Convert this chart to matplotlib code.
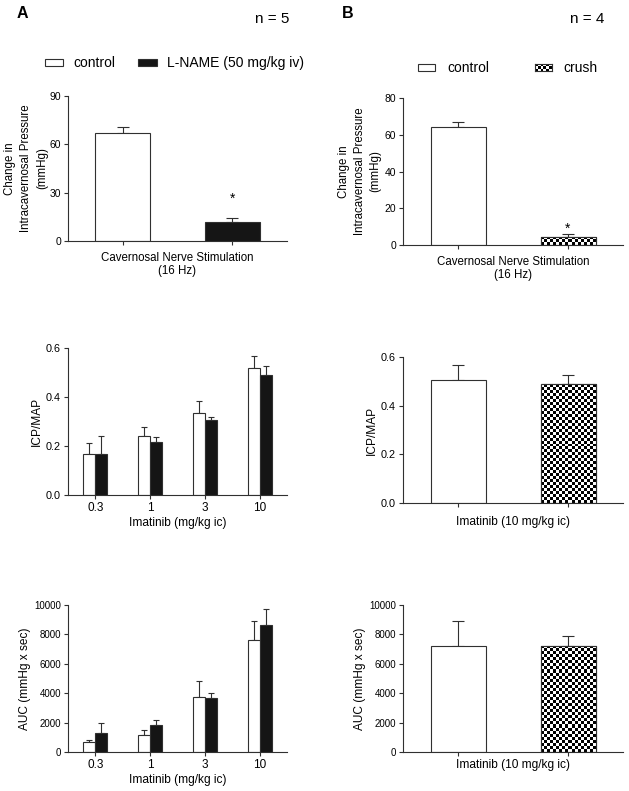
import numpy as np
import matplotlib
matplotlib.use('agg')
import matplotlib.pyplot as plt
from matplotlib.patches import Rectangle

plt.rcParams['font.family'] = ['Liberation Sans', 'DejaVu Sans']

W, H = 629, 791
EDGE = '#303030'

# panel A, top: change in ICP at 16 Hz
nerve_groups = ['control', 'L-NAME (50 mg/kg iv)']
nerve_a_mean = [67.2, 12.0]
nerve_a_sem = [3.7, 2.5]
# panel B, top
crush_groups = ['control', 'crush']
nerve_b_mean = [64.4, 4.5]
nerve_b_sem = [2.7, 1.3]
star_a_y = 26
star_b_y = 8.8

# imatinib doses, panel A
doses = ['0.3', '1', '3', '10']
icp_ctrl = [0.166, 0.241, 0.334, 0.518]
icp_ctrl_sem = [0.048, 0.038, 0.048, 0.051]
icp_lname = [0.166, 0.218, 0.307, 0.491]
icp_lname_sem = [0.075, 0.018, 0.013, 0.037]
auc_ctrl = [650, 1175, 3735, 7625]
auc_ctrl_sem = [185, 290, 1125, 1310]
auc_lname = [1290, 1853, 3707, 8642]
auc_lname_sem = [680, 340, 340, 1065]

# panel B, 10 mg/kg imatinib
icp_b = [0.504, 0.488]
icp_b_sem = [0.062, 0.040]
auc_b = [7237, 7216]
auc_b_sem = [1677, 700]


def px_axes(fig, l, t, r, b):
    return fig.add_axes([l / W, 1 - b / H, (r - l) / W, (b - t) / H])


def style(ax, ysize=7.5):
    for s in ['top', 'right']:
        ax.spines[s].set_visible(False)
    for s in ['left', 'bottom']:
        ax.spines[s].set_color(EDGE)
        ax.spines[s].set_linewidth(0.8)
    ax.tick_params(length=3, width=0.8, color=EDGE, pad=2)
    ax.tick_params(axis='y', labelsize=ysize)
    ax.tick_params(axis='x', labelsize=8.5)


def checker(ax, bar, cell=3):
    # fill a bar with a black/white checkerboard clipped to the bar
    bb = bar.get_window_extent()
    nx = max(1, int(round(bb.width / cell)))
    ny = max(1, int(round(bb.height / cell)))
    grid = (np.add.outer(np.arange(ny), np.arange(nx)) % 2).astype(float)
    x0 = bar.get_x()
    im = ax.imshow(grid, cmap='gray', interpolation='nearest', aspect='auto',
                   extent=(x0, x0 + bar.get_width(), 0, bar.get_height()),
                   origin='lower', zorder=2)
    im.set_clip_path(bar)


def upper_err(ax, x, y, e, cap):
    ax.errorbar(x, y, yerr=[np.zeros(len(e)), e], fmt='none', ecolor=EDGE,
                elinewidth=0.8, capsize=cap, capthick=0.8, zorder=1)


def pair_panel(ax, mean, sem, second, ylim, yticks, fmt=None, ysize=7.5):
    x = np.arange(2)
    upper_err(ax, x, mean, sem, 4.3)
    bars = ax.bar(x, mean, width=0.5, facecolor='white', edgecolor=EDGE,
                  linewidth=0.8, zorder=1.5)
    ax.set_xlim(-0.5, 1.5)
    ax.set_ylim(*ylim)
    ax.set_yticks(yticks)
    if fmt:
        ax.set_yticklabels([fmt % v for v in yticks])
    ax.set_xticks(x)
    ax.set_xticklabels(['', ''])
    style(ax, ysize)
    if second == 'black':
        bars[1].set_facecolor('#151515')
    else:
        bars[1].set_facecolor('none')
        checker(ax, bars[1])
        ax.bar(x[1:], mean[1:], width=0.5, facecolor='none', edgecolor=EDGE,
               linewidth=0.8, zorder=3)
    return bars


def dose_panel(ax, c, cs, l, ls, ylim, yticks, fmt=None, ysize=7.5):
    x = np.arange(len(doses))
    w = 0.22
    upper_err(ax, x - w / 2, c, cs, 2.2)
    upper_err(ax, x + w / 2, l, ls, 2.2)
    ax.bar(x - w / 2, c, width=w, facecolor='white', edgecolor=EDGE,
           linewidth=0.8, zorder=1.5)
    ax.bar(x + w / 2, l, width=w, facecolor='#151515', edgecolor=EDGE,
           linewidth=0.8, zorder=1.5)
    ax.set_xlim(-0.5, 3.5)
    ax.set_ylim(*ylim)
    ax.set_yticks(yticks)
    if fmt:
        ax.set_yticklabels([fmt % v for v in yticks])
    ax.set_xticks(x)
    ax.set_xticklabels(doses)
    style(ax, ysize)
    ax.set_xlabel('Imatinib (mg/kg ic)', fontsize=8.6, labelpad=2)


fig = plt.figure(figsize=(W / 100, H / 100), dpi=100)

# headers
fig.text(17 / W, 1 - 14 / H, 'A', fontsize=11.5, fontweight='bold', va='center')
fig.text(342 / W, 1 - 14 / H, 'B', fontsize=11.5, fontweight='bold', va='center')
fig.text(255 / W, 1 - 19 / H, 'n = 5', fontsize=11, va='center')
fig.text(570 / W, 1 - 19 / H, 'n = 4', fontsize=11, va='center')

# legends
fig.patches.append(Rectangle((45 / W, 1 - 66 / H), 18 / W, 7 / H, transform=fig.transFigure,
                             facecolor='white', edgecolor=EDGE, linewidth=0.8))
fig.text(73 / W, 1 - 63 / H, nerve_groups[0], fontsize=10, va='center')
fig.patches.append(Rectangle((138 / W, 1 - 66 / H), 19 / W, 7 / H, transform=fig.transFigure,
                             facecolor='#151515', edgecolor=EDGE, linewidth=0.8))
fig.text(167 / W, 1 - 63 / H, nerve_groups[1], fontsize=10, va='center')

fig.patches.append(Rectangle((418 / W, 1 - 71 / H), 17 / W, 7 / H, transform=fig.transFigure,
                             facecolor='white', edgecolor=EDGE, linewidth=0.8))
fig.text(447 / W, 1 - 68 / H, crush_groups[0], fontsize=10, va='center')
sw = px_axes(fig, 535, 64, 552, 71)
sw.imshow(np.add.outer(np.arange(3), np.arange(6)) % 2, cmap='gray',
          interpolation='nearest', aspect='auto')
sw.set_xticks([])
sw.set_yticks([])
for s in sw.spines.values():
    s.set_color(EDGE)
    s.set_linewidth(0.8)
fig.text(563 / W, 1 - 68 / H, crush_groups[1], fontsize=10, va='center')

nerve_label = 'Cavernosal Nerve Stimulation\n(16 Hz)'
icp_ylabel = 'Change in\nIntracavernosal Pressure\n(mmHg)'

# top A
ax = px_axes(fig, 68, 96, 287, 241)
pair_panel(ax, nerve_a_mean, nerve_a_sem, 'black', (0, 90), [0, 30, 60, 90])
ax.set_xlabel(nerve_label, fontsize=8.3, linespacing=1.1, labelpad=3)
ax.set_ylabel(icp_ylabel, fontsize=8.3, linespacing=1.45, labelpad=1)
ax.text(1, star_a_y, '*', ha='center', va='center', fontsize=10)

# top B
ax = px_axes(fig, 403, 98, 623, 245)
pair_panel(ax, nerve_b_mean, nerve_b_sem, 'checker', (0, 80), [0, 20, 40, 60, 80])
ax.set_xlabel(nerve_label, fontsize=8.3, linespacing=1.1, labelpad=3)
ax.set_ylabel(icp_ylabel, fontsize=8.3, linespacing=1.45, labelpad=2)
ax.text(1, star_b_y, '*', ha='center', va='center', fontsize=10)

# middle A
ax = px_axes(fig, 68, 348, 287, 495)
dose_panel(ax, icp_ctrl, icp_ctrl_sem, icp_lname, icp_lname_sem, (0, 0.6),
           [0, 0.2, 0.4, 0.6], '%.1f', ysize=7.8)
ax.set_ylabel('ICP/MAP', fontsize=8.6, labelpad=2)

# middle B
ax = px_axes(fig, 403, 357, 623, 503)
pair_panel(ax, icp_b, icp_b_sem, 'checker', (0, 0.6), [0, 0.2, 0.4, 0.6], '%.1f', ysize=7.8)
ax.set_xlabel('Imatinib (10 mg/kg ic)', fontsize=8.6, labelpad=4)
ax.set_ylabel('ICP/MAP', fontsize=8.6, labelpad=2)

# bottom A
ax = px_axes(fig, 68, 605, 287, 752)
dose_panel(ax, auc_ctrl, auc_ctrl_sem, auc_lname, auc_lname_sem, (0, 10000),
           [0, 2000, 4000, 6000, 8000, 10000], ysize=7)
ax.set_ylabel('AUC (mmHg x sec)', fontsize=8.6, labelpad=2)

# bottom B
ax = px_axes(fig, 403, 605, 623, 752)
pair_panel(ax, auc_b, auc_b_sem, 'checker', (0, 10000), [0, 2000, 4000, 6000, 8000, 10000],
           ysize=7)
ax.set_xlabel('Imatinib (10 mg/kg ic)', fontsize=8.6, labelpad=0)
ax.set_ylabel('AUC (mmHg x sec)', fontsize=8.6, labelpad=2)

fig.savefig('out.png', dpi=100)
